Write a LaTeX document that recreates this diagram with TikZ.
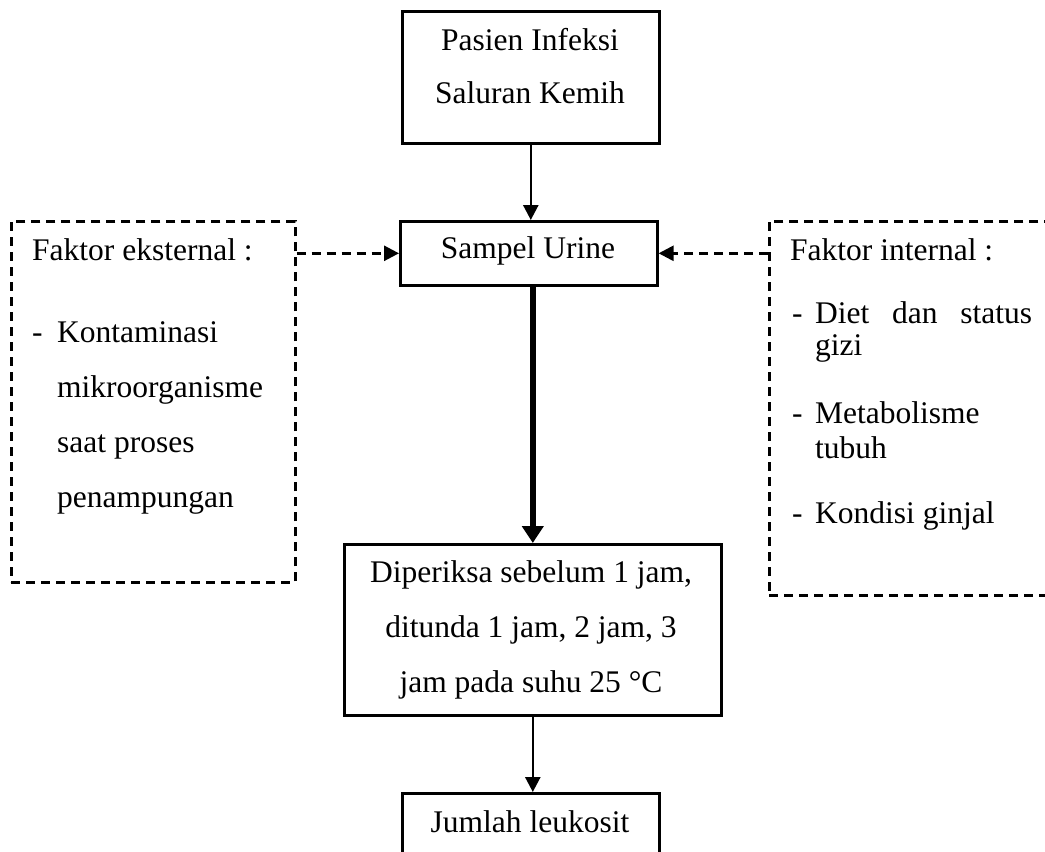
\documentclass[tikz,border=0pt]{standalone}
\usepackage{fontspec}
\setmainfont{Liberation Serif}
\usetikzlibrary{arrows.meta}
\begin{document}
\begin{tikzpicture}[x=1pt,y=-1pt,
  box/.style={draw,line width=2.6pt,inner sep=0pt,anchor=north west},
  dbox/.style={draw,line width=2.6pt,dash pattern=on 9pt off 6pt,inner sep=0pt,anchor=north west},
  txt/.style={inner sep=0pt,anchor=base west,font=\fontsize{31.5}{38}\selectfont},
  ctxt/.style={inner sep=0pt,anchor=base,font=\fontsize{31.5}{38}\selectfont},
  arr/.style={line width=2.6pt,-{Triangle[length=15pt,width=15pt]}},
  darr/.style={line width=2.6pt,dash pattern=on 9pt off 6pt,-{Triangle[length=15pt,width=15pt]}},
  thickarr/.style={line width=6pt,-{Triangle[length=17pt,width=21pt]}}]
\clip (0,0) rectangle (1045,852);
% boxes
\node[box,minimum width=257pt,minimum height=132pt] (top) at (401,10) {};
\node[box,minimum width=257pt,minimum height=64pt] (sampel) at (399,220) {};
\node[box,minimum width=377pt,minimum height=171pt] (diper) at (343,543) {};
\node[box,minimum width=257pt,minimum height=110pt] (jumlah) at (401,792) {};
\node[dbox,minimum width=284pt,minimum height=361pt] (ext) at (10,220) {};
\node[dbox,minimum width=420pt,minimum height=374pt] (int) at (768,220) {};
% texts
\node[ctxt] (t1) at (530,50) {Pasien Infeksi};
\node[ctxt] (t2) at (530,103) {Saluran Kemih};
\node[ctxt] (t3) at (528,258) {Sampel Urine};
\node[ctxt] (t4) at (531,582) {Diperiksa sebelum 1 jam,};
\node[ctxt] (t5) at (531,637) {ditunda 1 jam, 2 jam, 3};
\node[ctxt] (t6) at (531,692) {jam pada suhu 25 °C};
\node[ctxt] (t7) at (530,832) {Jumlah leukosit};
\node[txt] (e1) at (32,260) {Faktor eksternal :};
\node[txt] (e2) at (32,342) {-};
\node[txt] (e3) at (57,342) {Kontaminasi};
\node[txt] (e4) at (57,397) {mikroorganisme};
\node[txt] (e5) at (57,452) {saat proses};
\node[txt] (e6) at (57,507) {penampungan};
\node[txt] (i1) at (790,260) {Faktor internal :};
\node[txt] (i2) at (792,323) {-};
\node[txt] (i3) at (815,323) {\hbox to 217pt{Diet\hfill dan\hfill status}};
\node[txt] (i4) at (815,355) {gizi};
\node[txt] (i5) at (792,423) {-};
\node[txt] (i6) at (815,423) {Metabolisme};
\node[txt] (i7) at (815,458) {tubuh};
\node[txt] (i8) at (792,523) {-};
\node[txt] (i9) at (815,523) {Kondisi ginjal};
% connectors
\draw[arr] (top.south) -- (top.south |- sampel.north);
\draw[thickarr] (sampel.south -| diper.north) -- (diper.north);
\draw[arr] (diper.south) -- (diper.south |- jumlah.north);
\draw[darr] (ext.east |- sampel.west) -- (sampel.west);
\draw[darr] (int.west |- sampel.east) -- (sampel.east);
\end{tikzpicture}
\end{document}
